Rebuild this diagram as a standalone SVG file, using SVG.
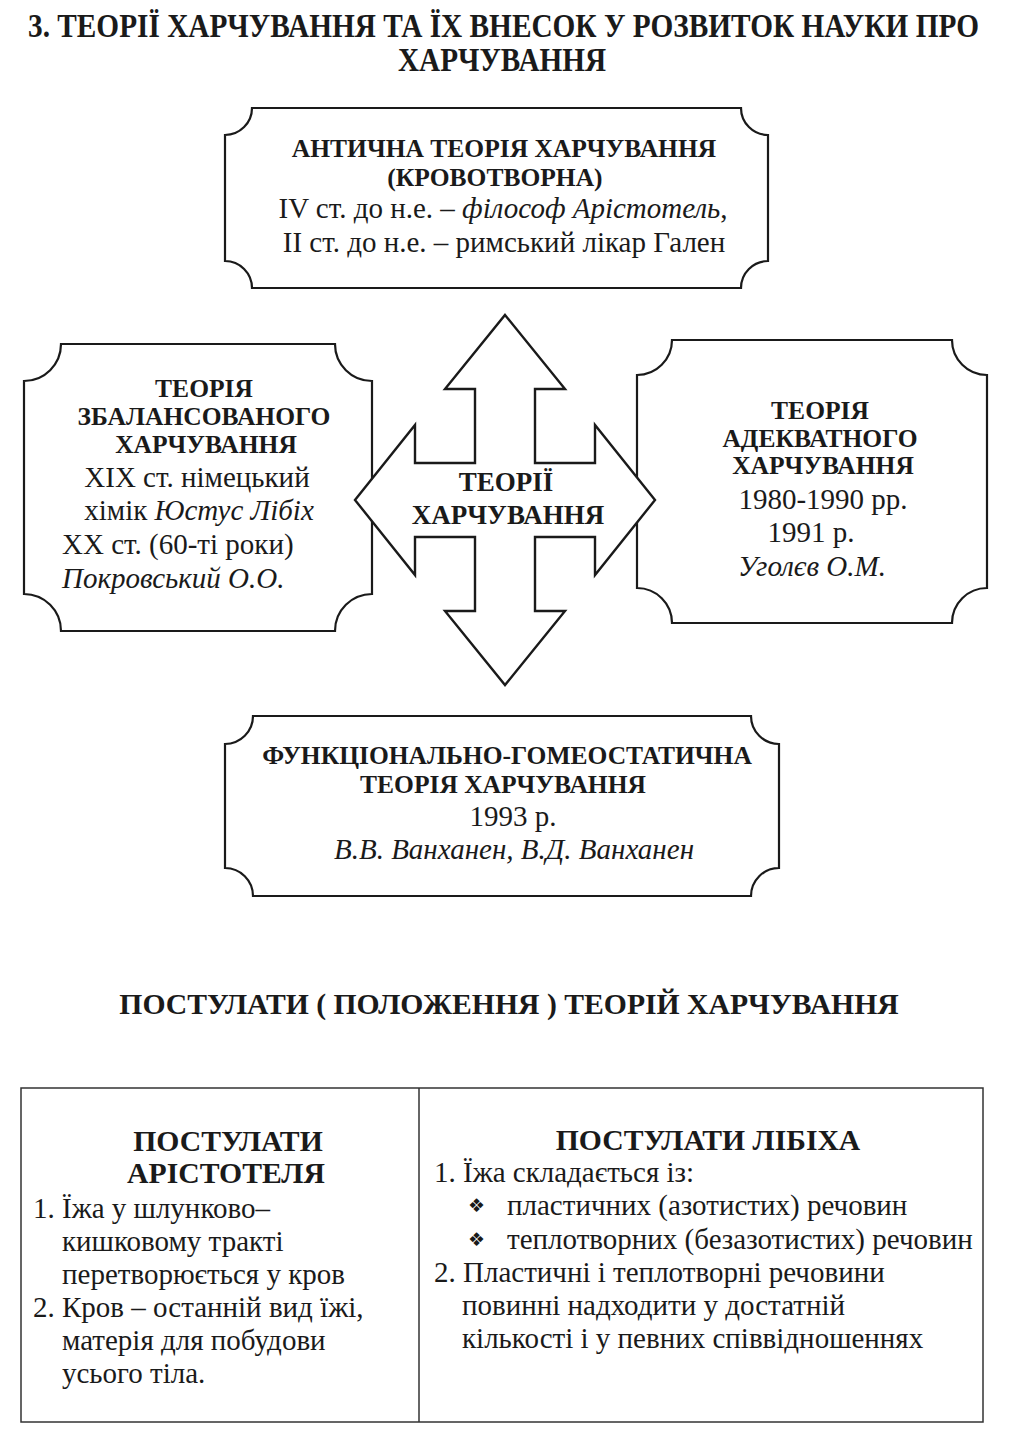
<svg xmlns="http://www.w3.org/2000/svg" width="1028" height="1447" viewBox="0 0 1028 1447">
<style>
  text { font-family: "Liberation Serif", "Times New Roman", serif; fill: #1a1a1a; }
  .h { font-weight: bold; font-size: 25.5px; text-anchor: middle; }
  .c { font-weight: bold; font-size: 27px; text-anchor: middle; }
  .r { font-size: 29px; text-anchor: middle; }
  .tt { font-weight: bold; font-size: 33px; }
  .th { font-weight: bold; font-size: 29.7px; text-anchor: middle; }
  .b { font-size: 29px; }
  .i { font-style: italic; }
  .box { fill: #fff; stroke: #1a1a1a; stroke-width: 2.2; }
  .arrow { fill: #fff; stroke: #1a1a1a; stroke-width: 2.4; stroke-linejoin: miter; }
  .tbl { fill: none; stroke: #333; stroke-width: 1.5; }
  .bul { font-family: "DejaVu Sans", sans-serif; font-size: 19px; }
</style>
<rect width="1028" height="1447" fill="#fff"/>

<g id="title">
  <text class="tt" transform="translate(28,37) scale(0.888,1)" x="0" y="0">3. ТЕОРІЇ ХАРЧУВАННЯ ТА ЇХ ВНЕСОК У РОЗВИТОК НАУКИ ПРО</text>
  <text class="tt" transform="translate(398,71) scale(0.885,1)" x="0" y="0">ХАРЧУВАННЯ</text>
</g>

<g id="node-antique">
  <path class="box" d="M252,108 H741 A27,27 0 0 0 768,135 V261 A27,27 0 0 0 741,288 H252 A27,27 0 0 0 225,261 V135 A27,27 0 0 0 252,108 Z"/>
  <text class="h" x="504" y="157">АНТИЧНА ТЕОРІЯ ХАРЧУВАННЯ</text>
  <text class="h" x="495" y="186">(КРОВОТВОРНА)</text>
  <text class="r" x="503" y="218">IV ст. до н.е. – <tspan class="i">філософ Арістотель</tspan>,</text>
  <text class="r" x="504" y="252">II ст. до н.е. – римський лікар Гален</text>
</g>

<g id="node-balanced">
  <path class="box" d="M61,344 H335 A37,37 0 0 0 372,381 V594 A37,37 0 0 0 335,631 H61 A37,37 0 0 0 24,594 V381 A37,37 0 0 0 61,344 Z"/>
  <text class="h" x="204" y="397">ТЕОРІЯ</text>
  <text class="h" x="204" y="425">ЗБАЛАНСОВАНОГО</text>
  <text class="h" x="206" y="453">ХАРЧУВАННЯ</text>
  <text class="r" x="197" y="487">XIX ст. німецький</text>
  <text class="r" x="199" y="520">хімік <tspan class="i">Юстус Лібіх</tspan></text>
  <text class="r" x="62" y="554" style="text-anchor:start">XX ст. (60-ті роки)</text>
  <text class="r i" x="62" y="588" style="text-anchor:start">Покровський О.О.</text>
</g>

<g id="node-adequate">
  <path class="box" d="M672,340 H952 A35,35 0 0 0 987,375 V588 A35,35 0 0 0 952,623 H672 A35,35 0 0 0 637,588 V375 A35,35 0 0 0 672,340 Z"/>
  <text class="h" x="820" y="419">ТЕОРІЯ</text>
  <text class="h" x="820" y="447">АДЕКВАТНОГО</text>
  <text class="h" x="823" y="474">ХАРЧУВАННЯ</text>
  <text class="r" x="823" y="509">1980-1990 рр.</text>
  <text class="r" x="811" y="542">1991 р.</text>
  <text class="r i" x="812" y="576">Уголєв О.М.</text>
</g>

<g id="node-functional">
  <path class="box" d="M253,716 H751 A28,28 0 0 0 779,744 V868 A28,28 0 0 0 751,896 H253 A28,28 0 0 0 225,868 V744 A28,28 0 0 0 253,716 Z"/>
  <text class="h" x="507" y="764">ФУНКЦІОНАЛЬНО-ГОМЕОСТАТИЧНА</text>
  <text class="h" x="503" y="793">ТЕОРІЯ ХАРЧУВАННЯ</text>
  <text class="r" x="513" y="826">1993 р.</text>
  <text class="r i" x="514" y="859">В.В. Ванханен, В.Д. Ванханен</text>
</g>

<g id="connectors">
  <path class="arrow" d="M505,315 L565,389 L535,389 L535,463 L595,463 L595,425 L655,500 L595,575 L595,537 L535,537 L535,611 L565,611 L505,685 L445,611 L475,611 L475,537 L415,537 L415,575 L355,500 L415,425 L415,463 L475,463 L475,389 L445,389 Z"/>
</g>

<g id="node-center">
  <text class="c" x="506" y="491">ТЕОРІЇ</text>
  <text class="c" x="508" y="524">ХАРЧУВАННЯ</text>
</g>

<g id="heading">
  <text class="th" x="509" y="1014">ПОСТУЛАТИ ( ПОЛОЖЕННЯ ) ТЕОРІЙ ХАРЧУВАННЯ</text>
</g>

<g id="table">
  <rect class="tbl" x="21" y="1088" width="962" height="334"/>
  <line class="tbl" x1="419" y1="1088" x2="419" y2="1422"/>
</g>

<g id="node-aristotle">
  <text class="th" x="228" y="1151">ПОСТУЛАТИ</text>
  <text class="th" x="226" y="1183">АРІСТОТЕЛЯ</text>
  <text class="b" x="33" y="1218">1. Їжа у шлунково–</text>
  <text class="b" x="62" y="1251">кишковому тракті</text>
  <text class="b" x="62" y="1284">перетворюється у кров</text>
  <text class="b" x="33" y="1317">2. Кров – останній вид їжі,</text>
  <text class="b" x="62" y="1350">матерія для побудови</text>
  <text class="b" x="62" y="1383">усього тіла.</text>
</g>

<g id="node-liebig">
  <text class="th" x="708" y="1150">ПОСТУЛАТИ ЛІБІХА</text>
  <text class="b" x="434" y="1182">1. Їжа складається із:</text>
  <text class="bul" x="468" y="1212">❖</text>
  <text class="b" x="507" y="1215">пластичних (азотистих) речовин</text>
  <text class="bul" x="468" y="1246">❖</text>
  <text class="b" x="507" y="1249">теплотворних (безазотистих) речовин</text>
  <text class="b" x="434" y="1282">2. Пластичні і теплотворні речовини</text>
  <text class="b" x="462" y="1315">повинні надходити у достатній</text>
  <text class="b" x="462" y="1348">кількості і у певних співвідношеннях</text>
</g>
</svg>
